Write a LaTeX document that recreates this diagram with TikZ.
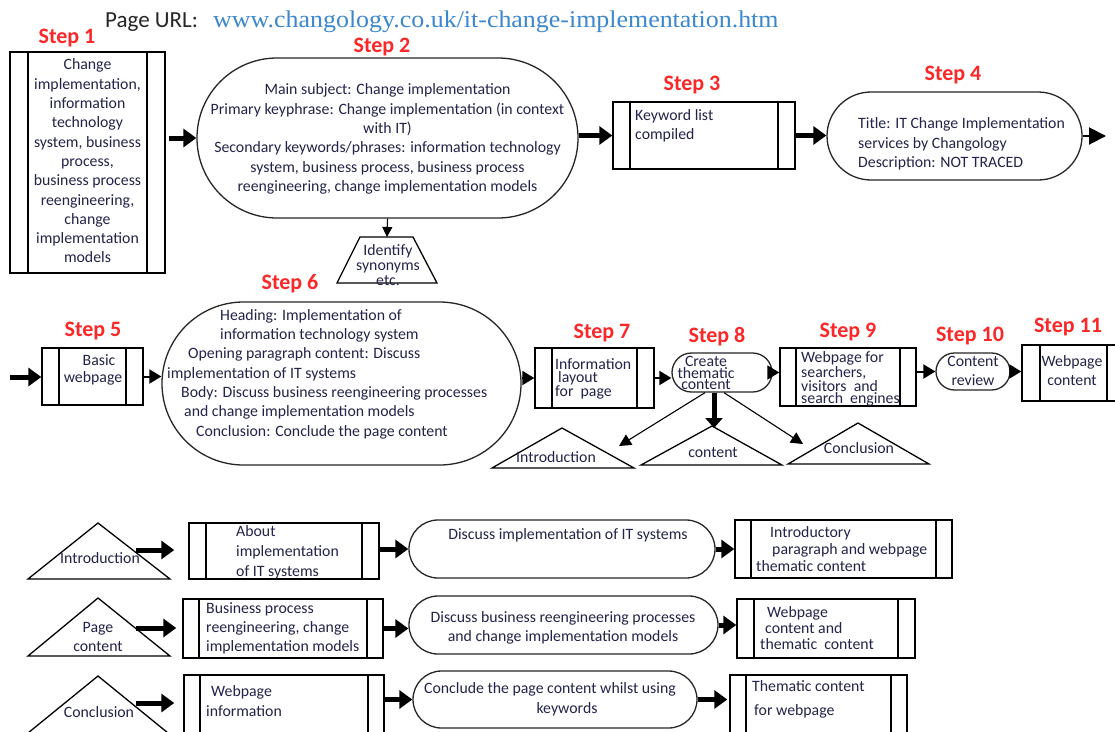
\documentclass[tikz,border=0pt]{standalone}
\usepackage{fontspec}
\setmainfont{Carlito}
\newfontfamily\urlfont[FakeStretch=1.08]{Liberation Serif}
\usetikzlibrary{shapes.misc,shapes.geometric,arrows.meta,calc}
\definecolor{txtc}{RGB}{35,35,75}
\definecolor{stepred}{RGB}{250,40,40}
\definecolor{urlblue}{RGB}{60,135,205}
\newcommand\bfsz[1]{\fontsize{15.8pt}{#1pt}\selectfont}
\tikzset{
  lbl/.style={inner sep=0pt, text=txtc, font=\bfsz{19.3}},
  steplbl/.style={inner sep=0pt, text=stepred, font=\fontsize{22pt}{26pt}\selectfont\bfseries},
  procbox/.style={draw, rectangle, line width=1.4pt, inner sep=0pt,
    path picture={\draw[line width=1.4pt]
      ([xshift=#1]path picture bounding box.north west) -- ([xshift=#1]path picture bounding box.south west)
      ([xshift=-#1]path picture bounding box.north east) -- ([xshift=-#1]path picture bounding box.south east);}},
  procbox/.default=17pt,
  stadium/.style={draw=black!85, rounded rectangle, line width=1.3pt, inner sep=0pt},
  bigarrow/.style={line width=5pt, -{Triangle[length=13pt,width=18pt]}},
  headarrow/.style={line width=2pt, -{Triangle[length=12pt,width=14pt]}},
  thinarrow/.style={line width=1.1pt, -{Triangle[length=10pt,width=10pt]}},
  tri/.style={draw, line width=1.3pt, line join=miter},
}
\begin{document}
\begin{tikzpicture}[x=1pt,y=-1pt]
\useasboundingbox (0,0) rectangle (1115,731);
\fill[white] (0,0) rectangle (1115,731);

% title
\node[anchor=west, inner sep=0pt, text=black!85, font=\fontsize{23pt}{26pt}\selectfont] (pg) at (105,22) {Page URL:};
\node[anchor=west, inner sep=0pt, text=urlblue, font=\urlfont\fontsize{24pt}{27pt}\selectfont] (url) at (213,22) {www.changology.co.uk/it-change-implementation.htm};

% step labels
\node[steplbl] (l1) at (67,38) {Step 1};
\node[steplbl] (l2) at (382,47) {Step 2};
\node[steplbl] (l3) at (692,85) {Step 3};
\node[steplbl] (l4) at (953,75) {Step 4};
\node[steplbl] (l5) at (93,331) {Step 5};
\node[steplbl] (l6) at (290,284) {Step 6};
\node[steplbl] (l7) at (602,333) {Step 7};
\node[steplbl] (l8) at (717,337) {Step 8};
\node[steplbl] (l9) at (848,332) {Step 9};
\node[steplbl] (l10) at (970,336) {Step 10};
\node[steplbl] (l11) at (1068,327) {Step 11};

% ---------- row 1 ----------
\node[procbox=18pt, minimum width=155pt, minimum height=221pt] (s1) at (87.5,162.5) {};
\node[lbl, align=center] (t1) at (87.5,161) {Change\\implementation,\\information\\technology\\system, business\\process,\\business process\\reengineering,\\change\\implementation\\models};

\node[stadium, minimum width=381pt, minimum height=160pt] (s2) at (387.5,138) {};
\node[lbl, align=center] (t2) at (387.5,139) {Main subject: Change implementation\\Primary keyphrase: Change implementation (in context\\with IT)\\Secondary keywords/phrases: information technology\\system, business process, business process\\reengineering, change implementation models};

\coordinate (trap) at (387,237);
\draw[tri] (337,283) -- (360,237) -- (413,237) -- (437,283) -- cycle;
\node[lbl, align=center, font=\bfsz{15}] (ttrap) at (388,265) {Identify\\synonyms\\etc.};

\node[procbox, minimum width=182pt, minimum height=67pt] (s3) at (704,135.5) {};
\node[lbl, align=left, anchor=west] (t3) at (635,126) {Keyword list\\compiled};

\node[stadium, minimum width=255pt, minimum height=88pt] (s4) at (954.5,136) {};
\node[lbl, align=left, anchor=west] (t4) at (858,144) {Title: IT Change Implementation\\services by Changology\\Description: NOT TRACED};
\coordinate (o4) at (1106,136);

\draw[bigarrow, shorten <=3pt] (s1.east |- s2.west) -- (s2.west);
\draw[bigarrow] (s2.east |- s3.west) -- (s3.west);
\draw[bigarrow] (s3.east) -- (s3.east -| s4.west);
\draw[line width=2pt, -{Triangle[length=17pt,width=17pt]}] (s4.east) -- (o4);
\draw[thinarrow] (s2.south) -- (trap);

% ---------- row 2 ----------
\coordinate (in5) at (10,377);
\node[procbox, minimum width=101pt, minimum height=57pt] (s5) at (92.5,376.5) {};
\node[lbl, align=center, font=\bfsz{17}] (t5) at (93,369.5) {\hspace*{12pt}Basic\\webpage};

\node[stadium, minimum width=359pt, minimum height=163pt] (s6) at (341.5,383.5) {};
\node[lbl, align=left, anchor=west] (t6) at (162,374) {\hspace*{58pt}Heading: Implementation of\\\hspace*{58pt}information technology system\\\hspace*{26pt}Opening paragraph content: Discuss\\\hspace*{5pt}implementation of IT systems\\\hspace*{19pt}Body: Discuss business reengineering processes\\\hspace*{22pt}and change implementation models\\\hspace*{34pt}Conclusion: Conclude the page content};

\node[procbox, minimum width=119pt, minimum height=60pt] (s7) at (594.5,378) {};
\node[lbl, align=left, anchor=west, font=\bfsz{13.5}] (t7) at (555,378.5) {Information\\\hspace*{3pt}layout\\for\ \ page};

\node[stadium, minimum width=100pt, minimum height=39pt] (s8) at (722,372.5) {};
\node[lbl, align=center, font=\bfsz{11.8}] (t8) at (706,373) {Create\\thematic\\content};

\node[procbox=16pt, minimum width=136pt, minimum height=58pt] (s9) at (848,377) {};
\node[lbl, align=left, anchor=west, font=\bfsz{12.6}] (t9) at (801,379) {Webpage for\\searchers,\\visitors\ \ and\\search\ \ engines};

\node[stadium, minimum width=74pt, minimum height=37pt] (s10) at (973,371.5) {};
\node[lbl, align=center, font=\bfsz{19}] (t10) at (973,370.5) {Content\\review};

\node[procbox=18pt, minimum width=103pt, minimum height=56pt] (s11) at (1073.5,373) {};
\node[lbl, align=center, font=\bfsz{19}] (t11) at (1072,370.5) {Webpage\\content};

\draw[bigarrow] (in5) -- (in5 -| s5.west);
\draw[headarrow] (s5.east) -- (s5.east -| s6.west);
\draw[headarrow] (s7.west -| s6.east) -- (s7.west);
\draw[headarrow] (s7.east) -- (s7.east -| s8.west);
\draw[headarrow] (s8.east) -- (s8.east -| s9.west);
\draw[headarrow] (s10.west -| s9.east) -- (s10.west);
\draw[headarrow] (s10.east) -- (s10.east -| s11.west);

% triangles under step 8
\draw[tri] (492,468) -- (562,428) -- (634,468) -- cycle;
\node[lbl] (tri1) at (556,457) {Introduction};
\draw[tri] (641,465) -- (712,426) -- (782,465) -- cycle;
\node[lbl] (tri2) at (713,453) {content};
\draw[tri] (788,464) -- (858,423) -- (929,464) -- cycle;
\node[lbl] (tri3) at (859,448) {Conclusion};

\coordinate (d8) at (714,428);
\coordinate (dl) at (619,446);
\coordinate (dr) at (803,444);
\draw[line width=5pt, -{Triangle[length=10pt,width=17pt]}] (d8 |- s8.south) -- (d8);
\draw[thinarrow, -{Triangle[length=12pt,width=12pt]}] ([xshift=-17pt]s8.south) -- (dl);
\draw[thinarrow, -{Triangle[length=12pt,width=12pt]}] ([xshift=2pt]s8.south) -- (dr);

% ---------- bottom rows ----------
% row A
\draw[tri] (28,579) -- (98,523) -- (170,579) -- cycle;
\node[lbl] (ta0) at (100,558) {Introduction};
\coordinate (ta) at (136,550);
\node[procbox, minimum width=190pt, minimum height=56pt] (a1) at (284,551) {};
\node[lbl, align=left, anchor=west, font=\bfsz{20}] (ta1) at (236,552) {About\\implementation\\of IT systems};
\node[stadium, minimum width=306pt, minimum height=58pt] (a2) at (562,549) {};
\node[lbl] (ta2) at (568,535) {Discuss implementation of IT systems};
\node[procbox=16pt, minimum width=217pt, minimum height=58pt] (a3) at (843.5,549) {};
\node[lbl, align=left, anchor=west, font=\bfsz{17}] (ta3) at (756,549) {\hspace*{14pt}Introductory\\\hspace*{16pt}paragraph and webpage\\thematic content};
\draw[bigarrow, shorten >=14pt] (ta) -- (ta -| a1.west);
\draw[bigarrow] (a1.east |- a2.west) -- (a2.west);
\draw[bigarrow] (a2.east) -- (a2.east -| a3.west);

% row B
\draw[tri] (28,656) -- (98,598) -- (170,656) -- cycle;
\node[lbl, align=center] (tb0) at (98,637) {Page\\content};
\coordinate (tb) at (136,628);
\node[procbox=16pt, minimum width=200pt, minimum height=59pt] (b1) at (283,628.5) {};
\node[lbl, align=left, anchor=west, font=\bfsz{19}] (tb1) at (206,628) {Business process\\reengineering, change\\implementation models};
\node[stadium, minimum width=309pt, minimum height=58pt] (b2) at (563.5,625) {};
\node[lbl, align=center] (tb2) at (563,628) {Discuss business reengineering processes\\and change implementation models};
\node[procbox, minimum width=178pt, minimum height=59pt] (b3) at (826,628.5) {};
\node[lbl, align=left, anchor=west, font=\bfsz{16}] (tb3) at (760,628) {\hspace*{7pt}Webpage\\\hspace*{5pt}content and\\thematic\ \ content};
\draw[bigarrow, shorten >=6pt] (tb) -- (tb -| b1.west);
\draw[bigarrow] (b1.east) -- (b1.east -| b2.west);
\draw[bigarrow] (b2.east) -- (b2.east -| b3.west);

% row C
\draw[tri] (28,733) -- (98,676) -- (168,733) -- cycle;
\node[lbl] (tc0) at (99,712) {Conclusion};
\coordinate (tc) at (136,703);
\node[procbox=16pt, minimum width=200pt, minimum height=65pt] (c1) at (284,707.5) {};
\node[lbl, align=left, anchor=west, font=\bfsz{20}] (tc1) at (206,701) {\hspace*{5pt}Webpage\\information};
\node[stadium, minimum width=284pt, minimum height=57pt] (c2) at (555,699.5) {};
\node[lbl, align=center, font=\bfsz{20}] (tc2) at (550,699) {Conclude the page content whilst using\\\hspace*{34pt}keywords};
\node[procbox=16pt, minimum width=177pt, minimum height=65pt] (c3) at (818.5,707.5) {};
\node[lbl, align=left, anchor=west, font=\bfsz{24}] (tc3) at (752,699) {Thematic content\\\hspace*{2pt}for webpage};
\draw[bigarrow, shorten >=9pt] (tc) -- (tc -| c1.west);
\draw[bigarrow] (c2.west -| c1.east) -- (c2.west);
\draw[bigarrow, shorten >=2pt] (c2.east) -- (c2.east -| c3.west);
\end{tikzpicture}
\end{document}
